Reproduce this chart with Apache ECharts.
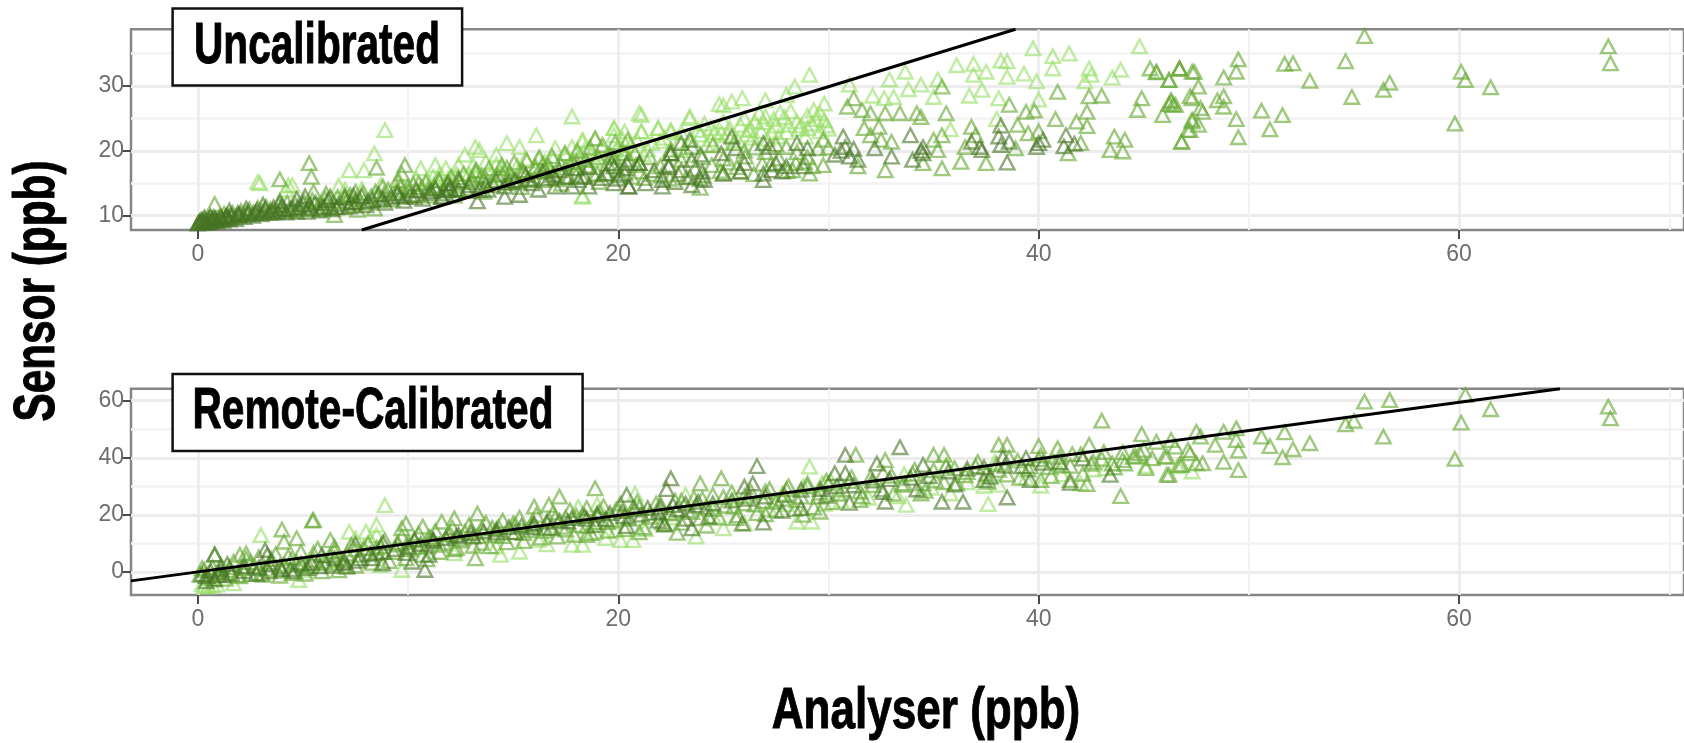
<!DOCTYPE html>
<html><head><meta charset="utf-8">
<style>html,body{margin:0;padding:0;background:#fff;overflow:hidden}#c{width:1684px;height:743px;filter:blur(0.45px)}</style>
<script src="https://cdn.jsdelivr.net/npm/echarts@6/dist/echarts.min.js"></script>
</head><body><div id="c"></div>
<script>
const xMajor=[0,20,40,60], xMinor=[10,30,50,70];
const y1Major=[10,20,30], y1Minor=[15,25,35];
const y2Major=[0,20,40,60], y2Minor=[10,30,50];
const identityA=[[7.8,7.8],[38.9,38.74]];
const identityB=[[-3.18,-3.1],[64.8,64.2]];

const uncalLight=[[2.85,15.2],[2.95,15],[4.5,14.7],[4.3,14.7],[4.2,14],[8.9,23.2],[8.4,19.6],[7.2,17],[7.9,17],[6.7,14.6],[10.6,17.3],[11.3,17.8],
[17.8,25.3],[21,25.8],[21.1,25.5],[23.4,25],[16.1,22.4],[14.7,21.2],[13.2,20.6],[13.4,20.1],[12.7,19.4],[15.3,20.6],[14.2,19.4],[15.6,18.8],[16.2,18.8],[17,20.4],[18.3,21.7],[18.9,21.9],[19.8,23.5],[20.3,23],[21.1,23],[21.9,23.5],[22.5,23.2],[19.8,22.4],[17.8,20.6],[18.4,20.1],[19.2,20.6],[20.6,20.9],[22.4,19.6],[23.2,20.1],[23.5,21.7],[17.5,19.6],[16.5,18.3],[15.3,17],[14.5,17.3],[13.7,18.3],[13.1,17.8],[12.4,17.8],[11.8,17.3],[18.1,18.8],[18.9,18.6],[18.3,21.4],
[39.73,35.8],[41.45,35],[40.67,34.6],[40.67,32.7],[44.8,36.1],[36.1,33.2],[36.9,33.4],[36.9,31.7],[38.2,33.9],[38.5,33.8],[37.5,32.2],[38.5,31.4],[39.3,31.9],[39.9,30.7],[42.4,32.7],[42.5,31.7],[42.2,30.7],[43.5,31.3],[43.9,32.5],[33.65,32.2],[32.9,31],[35.2,31],[34.4,30.2],[33.8,29.5],[32.65,28.1],[33.1,28.3],[35,28.3],[32.1,28.5],[31,30.2],[36.7,28.5],[37.3,29.4],[38.1,28.1],[40,27.9],[35.8,23.3],[38,24.9],
[29.1,31.7],[28.4,29.9],[28,28.6],[27,27.8],[25.9,28.1],[25.4,27.6],[24.8,27.2],[25,27],[23.4,25.3],[19.8,23.5],[21.9,23.5],[21.1,23],[22.5,22.9],[24.1,24.2],[26.7,25.8],[27,25.3],[26.5,24.5],[27.4,24.9],[28.5,24.5],[29,23.5],[29.6,25.8],[29.8,27.3],[29.4,24.9],[29.8,24.7],[29.9,23.9],[27.5,23.9],[26.2,23.2],[24.6,22.9],[25.3,23.5],[23.9,22.5],[28,22.9],[28.7,23.9],[29.3,26.3],[28.2,26.1],[26.8,23],[27.9,25.2],[26,25],[25,24.5],[24.4,21.8],[24.9,21.3],[26.4,22],[20.9,21.6],[20.2,21.8],[21.6,21.2],[22,21.5],[19.5,19.6],[13.9,16.7],[12.9,16.4],[11.2,16],[11.9,15.7],[10.9,15.6],[14.9,16.2],[16.8,17.2],[18.3,12.9],[18.3,13.1]];
const uncalLightBand=[[20.2,20.3],[21.4,20.2],[22.2,22],[23,22.8],[23.8,23.2],[24.4,23.5],[25.2,22.4],[25.8,24],[26.3,23.4],[26.9,24.4],[27.3,22.9],[27.7,25.9],[28.1,24],[28.6,23.4],[29,25.4],[29.2,24.2],[29.6,23],[30,23.4],[28.9,22.2],[27.1,21.8],[25.7,21.6],[24.2,20.8],[23.1,19.3],[21.2,19.4],[19.9,20.2],[18.7,19.4],[17.7,18],[16.9,18.7],[16.1,17.6],[15.2,17.7],[14.2,17.9],[13.2,16.2],[12.3,16.4],[11.5,16.4],[10.4,15.7],[9.6,15.3],[8.7,14.7],[7.8,14.1],[7,14],[20.4,19.7],[22.9,21.4],[26.1,22.5],[27.6,22.2],[24.9,22.8]];

const uncalMid=[[3.9,15.6],[5.3,18.1],[5.4,16],[8.5,17.4],[9.85,17.8],[9.7,16.5],[9.5,15.5],[18.9,21.9],[5.5,13.7],[6.1,13.4],[7.5,13.7],[8.8,14.5],[9.5,14],[7,13.2],[6.5,10.1],[7.6,10.9],[8.4,11.1],[0.8,11.8],
[45.3,32.7],[45.6,32.2],[46.2,30.9],[46.7,32.7],[47.3,32.2],[47.4,32.2],[45.6,32.1],[46.2,30.9],[46.7,32.7],[35.4,29.9],[31.2,28.1],[38.6,27.1],[40.9,29.1],[42.4,28.4],[43,28.5],[44.9,28.1],[44.7,26.3],[46.3,27.8],[46.4,27.1],[45.9,25.5],[47.3,28.1],[39.4,26],[39.8,26.2],[42.3,26],[40.8,24.9],[41.8,24.5],[42.3,23.8],[39,24],[36.8,23.7],[35.6,25.8],[33.4,25.8],[34.2,25.8],[34.4,25.2],[32.7,25.8],[30.9,26.8],[31.6,26.3],[32,25.8],[32.4,23.7],[31.7,23.5],[32,22.4],[35,21.7],[35.4,22.4],[37,22.4],[39.5,22.7],[40,23],[42,21.2],[43.6,22.2],[44.1,21.7],[43.4,20.1],[44,19.9],[41.4,19.6],[38.9,20.4],[36.5,20.6],[35.2,20.1],[34.5,18.1],[32.5,21.7],[33,21.4],[31.4,17.6],[29.75,21.7],[29.75,17.8],[35.4,17.3],[36.3,18.3],[37.5,18.1],[32.7,17],[46.8,21.4],[47.2,23.2],[47.3,24.8],
[55.5,37.7],[54.6,33.8],[54.9,28.3],[67.1,36.1],[67.2,33.5],[60.1,32.2],[60.3,30.9],[61.5,29.8],[59.8,24.2],[56.7,30.5],[56.4,29.4],[52.9,30.8],[51.7,33.4],[52.1,33.5],[50.6,26.2],[51.6,25.5],[51,23.3],[49.5,22.1],[49.4,24.9],[49.5,34.1],[49.4,32.2],[48.8,31.3],[47.6,29.9],[46.7,32.7],[46.2,27.2],[47.2,28.4],[46.3,27.6],[46.5,27.1],[47.7,26.6],[47.8,26],[48.5,27.8],[48.8,28.4],[48.8,26.8],[47.6,24],[47.3,24.5],[47.1,23.2],[46.8,21.4],
[10,14.5],[10.5,15],[11,14.2],[11.5,15.4],[12,14.6],[12.4,15.9],[13,15.2],[13.5,16.2],[14,15.3],[14.5,16.4],[15,15.4],[15.5,16.7],[16,15.7],[16.5,17],[17,15.9],[17.5,17.4],[18,16.2],[18.5,17.7],[19,16.5],[19.5,18],[20,17],[20.5,18.6],[21,16.8],[21.5,19],[22,17.6],[22.5,20.2],[23,18.6],[23.5,20.6],[24,19],[24.5,20.9],[25,18.8],[25.5,21.2],[26,20],[26.5,20.5],[27,19.8],[27.5,21],[28,20.6],[28.5,19.8],[29,19],[29.5,20.4],[30,20.5],[12.2,13.1],[13.6,13.7],[15.4,14.4],[17.3,14.9],[19.1,15.2],[23.9,14.3],[25,16.5],[25.8,16.8],[28.3,17],[29.1,16.5],[19.8,19],[20.8,19.6],[18,18.3],[16.4,17.9],[14.7,17.4],[13.2,16.9]];
const uncalMidBand=[[0.15,9.4],[0.35,9.6],[0.55,9.2],[0.75,9.8],[1.05,10],[1.25,10.3],[1.45,9.7],[1.65,10.4],[1.85,10],[2.05,10.7],[2.25,10.4],[2.45,11],[2.65,10.5],[2.85,11.2],[3.05,10.7],[3.25,11.4],[3.45,10.9],[3.65,10.5],[3.85,11.7],[4.05,11],[4.25,12],[4.45,10.8],[4.65,11.7],[4.85,11],[5.05,12.2],[5.25,11.3],[5.45,12.4],[5.65,11],[5.85,11.9],[6.05,12.6],[6.25,11.2],[6.45,12],[6.65,12.9],[6.85,11.3],[7.05,12.2],[7.25,13.2],[7.45,11.6],[7.65,12.6],[7.85,13.5],[8.05,12],[8.25,13],[8.45,13.7],[8.65,12.4],[8.85,13.3],[9.05,14],[9.25,12.5],[9.45,13.6],[9.65,14.4],[9.85,12.9],[10.05,14],[10.25,14.9],[10.45,13.2],[10.65,14.4],[10.85,15.2],[11.05,13.1],[11.25,14.6],[11.45,15.5],[11.65,13.9],[11.85,15],[12.05,16],[12.25,14],[12.45,15.2],[12.65,16.5],[12.85,14.2],[13.05,15.7],[13.25,17],[13.45,14.6],[13.65,16],[13.85,17.3],[14.05,14.7],[14.25,16.3],[14.45,17.8],[14.65,15],[14.85,16.6],[15.05,18.2],[15.25,15.2],[15.45,17],[15.65,18.5],[15.85,15.4],[16.05,17.4],[16.25,19],[16.45,15.5],[16.65,17.8],[16.85,19.2],[17.05,15.6],[17.25,18],[17.45,19.6],[17.65,15.9],[17.85,18.3],[18.05,20],[18.25,16],[18.45,18.6],[18.65,20.5],[18.85,16.3],[19.05,19],[19.25,20.9],[19.45,16.5],[19.65,19.3],[19.85,21.3],[20.05,16.2],[20.25,19.6],[20.45,21.7],[20.65,16],[20.85,17.8],[21.25,15.8],[21.65,16.4],[22.05,16.2],[22.45,15.7],[22.85,16.4],[23.25,15.9],[23.65,17.2],[24.05,16.2],[24.45,17.8],[24.85,16.9],[25.25,18.2],[25.65,17.5],[26.05,19.1],[26.45,16.4],[26.85,18],[27.25,17.9],[27.65,18.8],[28.05,16.9],[28.45,18.1],[28.85,18.3],[29.25,17.6]];

const uncalDark=[[0,8.8],[0.1,9.1],[0.2,9.3],[0.3,8.9],[0.4,9.2],[0.5,9.5],[0.6,9],[0.7,9.3],[0.8,9.6],[0.9,9.1],[1,9.4],[1.1,9.8],[1.2,9.2],[1.3,9.6],[1.4,10],[1.5,9.4],[1.6,9.8],[1.8,9.5],[2,10.2],[2.2,9.8],[2.4,10.5],[2.6,10],[2.8,10.8],[3,10.2],[3.2,11],[3.4,10.4],[3.6,11.3],[3.8,10.6],[4,11.6],[4.2,10.5],[4.5,11.2],[4.7,10.6],[5,11.8],[5.2,10.6],[5.4,11.1],[5.6,12],[5.8,10.8],[6,11.4],[6.2,12.4],[6.4,11],[6.7,11.7],[7,12.8],[7.2,11.4],[7.5,12.1],[7.8,13],[8,11.6],[8.3,12.4],[8.6,13.3],[8.9,12],[9.2,12.9],[9.5,13.4],[9.8,12.3],[10.1,13.2],[10.4,13.9],[10.7,12.6],[11,13.5],[11.3,14.2],[11.6,12.9],[11.9,13.9],[1.5,10.8],[2.3,11.1],[3.1,11.7],[3.9,12.2],[4.7,12.6],[0.3,9.7],[0.6,9.9],[1.9,10.4],[5.1,13],[6.3,12.9],[7.4,13.1],
[13.3,12.2],[14.6,12.9],[15.3,13.2],[16.2,14],[17,14.5],[17.8,14.5],[18.6,14.5],[19.8,15],[20.5,14.5],[22.1,14.5],[23.5,14.7],[13.8,14],[12.4,14],[11.8,13.4],[12.9,14.7],[15.1,15.5],[15.9,15],[16.7,15.8],[17.5,16],[18.4,16],[19.4,16.5],[20.3,17.3],[21,18.1],[21.7,17],[22.4,17.5],[22.5,19.6],[18.6,17.5],[13.4,14],[11.9,15],[11.6,12.9],[12.4,15.5],[14.2,15.5],[14.6,14.5],[15.6,16.3],[16.4,16.8],[17.2,17],[18,17.3],[19.7,18.1],
[20.4,18.1],[21,18.1],[19.8,17.6],[20.3,16.5],[20.5,14.5],[22.1,15.5],[23.4,16],[24,16.8],[22.4,17.8],[23,17],[24.9,19.6],[23.9,19.4],[22.5,19.6],[24.1,15.5],[25,16.5],[25.8,16.8],[26,18.1],[26.9,15.5],[26.9,16.5],[27.5,18.1],[28,17.6],[28.5,21.2],[29,20.4],[26.9,21.2],[27.2,20.6],[25.4,22.2],[25.6,20.4],[23,21.2],[23.4,21.7],[23.5,18.6],[27.3,17],[27.8,16.8],[28.8,17.6],
[33.9,22.4],[36.8,21.4],[38.1,22.2],[38.2,23.9],[40.2,21.7],[41.3,22.4],[39.9,20.6],[38.2,20.9],[37.3,20.1],[37.2,20.6],[34.5,20.6],[34.5,19.6],[34,18.6],[33,19.1],[32.2,20.4],[30.7,22.2],[30.8,20.6],[30.3,19.4],[31,19.1],[31.4,18.6],[38.5,18.2],[40,21.2],[41.7,21.1],[41.2,20.7],[38.6,21.4],[34.4,20],[30.6,20],[31.2,20.3],
[0.05,9],[0.25,9.1],[0.45,8.9],[0.65,9.3],[0.85,9.4],[1.15,9.5],[1.35,9.9],[1.55,10.1],[1.95,10.1],[2.35,10.2],[2.75,10.4],[3.15,10.5],[3.55,10.7],[3.95,11],[4.35,11],[4.75,11.3],[5.3,11.6],[5.9,11.2],[6.6,11.3],[7.3,12],[8.1,12.2],[8.8,12.6],[9.6,13],[10.3,12.9],[11.1,13.8],[12,14.2],[12.8,13.8],[13.7,14.8],[14.8,15.2],[15.7,15.6],[16.9,16.3],[18.1,15.5],[19.2,15.8],[20,15.7],[21.3,15],[22.7,15.2],[23.9,15.7]];

const remoteLight=[[8.9,23.4],[8.5,16.5],[8.5,12.9],[7.2,14.1],[8,14.1],[7.5,11.8],[8.2,11.2],[3,12.9],[1.7,-4],[4.8,-2.8],[5.1,0.7],[8.7,2.4],[9.7,0.7],[17.8,9.5],[18.3,9.5],[20.1,11.2],[20.7,11.2],[23.7,12.4],[25,15.3],[26,17],[29.1,36.9],[28.5,17.6],[29.2,17.6],[33.7,23.5],[37.6,23.8],[35.8,27.5],[40.1,30.2],[37.4,30.2],[42,31],[38.1,30.5],[0.3,-5],[0.5,-5.1],[0.7,-4.7],[0.2,-4.3],[0.9,-4.4],[12.2,6.5],[15.3,7.1],[14.4,6],[7,1.9],[6.6,4.2],[16.2,11.2],[18.9,14],[19.4,11.9],[16.6,9.7],[14.2,9],[19.9,14.6],[21.3,15],[22.6,19.1],[24.5,19.6],[27.2,22],[28,23.8],[29.8,23.9],[30.6,25],[31.9,26],[33.3,26.5],[34.9,29.5],[36.6,31.4],[39.4,32.9],[41.1,34.2],[42.6,35.9],[43.2,36.3],[45.1,37.2],[46.6,37],[47.3,35.2],[19,23.6],[18.1,22.8],[20.8,27.4],[23.2,27],[25.5,25.5],[27.8,27.4],[28.8,30],[29.7,31.2],[30.1,32.1],[33.6,34.2],[35.6,37.3],[37.9,38.5],[40.7,38.8]];

const remoteMid=[[5.5,18.2],[5.45,18],[4,14.9],[4.7,11.8],[4.1,10.6],[0.8,6],[2,6],[2.3,6.5],[0.2,1.3],[6.3,11.2],[9.7,15.3],[9.9,17],[10.7,15.9],[11.6,17.6],[12.2,18.8],[13.3,20.5],[16,22.9],[16.7,23.5],[18.9,29.3],[17.2,26.4],
[43,53],[44.9,48.3],[43.9,26.6],[32.7,39.2],[23.9,31],[24.9,32.8],[35,41],[35.5,41],[38.1,44.5],[38.5,44.5],[40,44.1],[40.9,43.3],[42.4,44.5],[31.3,41],[22.2,16.5],[27,20.2],[28.8,20],[29.6,21.1],[31.5,25.2],[34.4,27.5],[40.1,32.2],[41.5,32.2],[42.3,30.8],[44,39.2],[46.2,34],[46.7,37.5],[44.8,41.6],[46.1,40.4],[47.2,41.6],
[55.5,59.7],[56.7,60.2],[60.3,62],[61.5,57],[60.1,52.3],[59.8,39.6],[56.4,47.4],[54.6,51.7],[55,52.9],[67.1,57.9],[67.2,53.8],[52.9,45.1],[52.1,43],[51.6,40.2],[51.7,48.9],[50.6,47.4],[51,44.1],[49.5,35.7],[48.8,38.6],[49.5,42.5],[49.4,46.2],[49.4,50.3],[48.8,49.1],[48.4,44.5],[47.5,49.1],[47.7,47.4],[47.1,42.7],[46.8,37.5],[47.5,38.1],[47.8,38.1],[46.1,34],[46,40.4],[45.4,39.8],[46.5,43.9],[45.6,45.6],[46.3,46.2],
[10,10.4],[10.5,8.8],[11,12.3],[11.5,9.5],[12,13.4],[12.5,11],[13,14.8],[13.5,10.2],[14,15.5],[14.5,12.6],[15,17],[15.5,13.6],[16,16.5],[16.5,14.4],[17,18.8],[17.5,14.9],[18,19.7],[18.5,16],[19,20.6],[19.5,17.5],[20,22],[20.5,18.6],[21,22.6],[21.5,19.3],[22,23.8],[22.5,20.5],[23,24.9],[23.5,21],[24,25.6],[24.5,22],[25,26.2],[25.5,22.9],[26,26.5],[26.5,23.6],[27,28.2],[27.5,24.6],[28,29],[28.5,25.1],[29,30],[29.5,26.3],[30,31],[30.5,27.4],[31,31.8],[31.5,28.2],[32,33],[32.5,28.9],[33,33.7],[33.5,30.5],[34,34.4],[34.5,31],[35,35.6],[35.5,31.4],[36,36.3],[36.5,33.9],[37,37],[37.5,34.4],[38,37.8],[38.5,34.1],[39,39],[39.5,35.9],[40,39.5],[40.5,36.7],[41,40.3],[41.5,37.2],[42,41.2],[42.5,37.9],[43,39.6],[43.5,38],[44,41.9],[44.5,40.3],[45,42.8],[13.2,4.8],[12.2,7.9],[10.9,4.4],[18.5,12.9],[21,13.9],[22.8,13.7],[24.2,16.2],[25.6,18.9],[1.5,1.6],[2.5,3.4],[3.5,4.5],[4.5,4.9],[5.5,6.5],[6.5,7.3],[7.5,7.9],[8.5,8.5],[9.5,9.6],[1,-1],[2,-1.5],[3,-0.6],[4,0.4],[5,2.4],[6,3.6]];
const remoteMidBand=[[0.1,-1],[0.3,0.8],[0.5,-2],[0.7,1.6],[0.9,-0.8],[1.1,2.4],[1.3,-2.4],[1.5,0.6],[1.7,3.6],[1.9,-1.2],[2.1,1.4],[2.3,4.6],[2.5,-0.7],[2.7,2],[2.9,5.2],[3.1,-1],[3.3,1],[3.5,3.4],[3.7,6.2],[3.9,-1.3],[4.1,2.6],[4.3,5.4],[4.5,-0.4],[4.7,3.4],[4.9,7],[5.1,-0.6],[5.3,2],[5.5,4.2],[5.7,8.1],[5.9,0.2],[6.1,3],[6.3,5.6],[6.5,8.8],[6.7,0.6],[6.9,4.4],[7.1,6.4],[7.3,9.4],[7.5,2.2],[7.7,6],[7.9,8.4],[8.1,10],[8.3,3.2],[8.5,6.6],[8.7,9],[8.9,11],[9.1,3.8],[9.3,7],[9.5,10.3],[9.7,12.4],[9.9,4.8],[10.1,8],[10.3,11],[10.5,13.5],[10.7,6],[10.9,9],[11.1,12],[11.3,14.4],[11.5,7],[11.7,10.2],[11.9,13.2],[12.1,15.6],[12.3,8.4],[12.5,11.7],[12.7,14],[12.9,16.4],[13.1,9.2],[13.3,12.6],[13.5,15.2],[13.7,17.2],[13.9,9],[14.1,12.9],[14.3,15.8],[14.5,18],[14.7,10.4],[14.9,14],[15.1,16.6],[15.3,19],[15.5,10.8],[15.7,14.6],[15.9,17.2],[16.1,20],[16.3,12],[16.5,15.5],[16.7,18.4],[16.9,20.8],[17.1,12.4],[17.3,15.8],[17.5,19],[17.7,21.6],[17.9,13],[18.1,16.4],[18.3,20],[18.5,22.4],[18.7,13.6],[18.9,17.4],[19.1,21],[19.3,23],[19.5,14.4],[19.7,18],[19.9,21.8],[20.1,24],[20.3,15],[20.5,19],[20.7,22.4],[20.9,24.6],[21.2,15.6],[21.5,20.6],[21.8,24],[22.1,17.4],[22.4,20.8],[22.7,25],[23,17.2],[23.3,21.6],[23.6,25.8],[23.9,18.8],[24.2,22.6],[24.5,27],[24.8,19],[25.1,23.2],[25.4,27.8],[25.7,19.8],[26,24],[26.3,28.2],[26.6,20.6],[26.9,24.8],[27.2,29],[27.5,21.6],[27.8,25.6],[28.1,30],[28.4,22],[28.7,26.4],[29,31],[29.3,22.6],[29.6,27.8],[29.9,32],
[30.2,24.4],[30.7,28.9],[31.1,33.2],[31.6,26.5],[32.1,30.4],[32.6,34.6],[33.1,27.4],[33.6,31],[34.1,35.8],[34.6,28.4],[35.1,32],[35.6,37.2],[36.1,31],[36.6,35],[37.1,38.5],[37.6,31.6],[38.1,35.8],[38.6,40],[39.1,33],[39.6,37],[40.1,40.8],[40.6,33.6],[41.1,37.4],[41.6,41.3],[42.1,34.4],[42.6,38.6],[43.1,42],[43.6,36.6],[44.1,38],[44.6,40.6],[45.1,36.4]];

const remoteDark=[[0.4,-3.3],[0.8,-2.6],[1.2,-1.2],[0.2,-0.8],[0.6,0.4],[1.1,1],[1.4,2.8],[2.2,2],[2.9,1.5],[3.4,2.7],[3.9,1.8],[4.4,1],[4.9,2.9],[5.4,3.2],[5.9,5.9],[6.5,4.8],[6.9,3],[7.7,4.8],[8.3,4.8],[3.2,7.7],[3.3,6],[7.1,1.9],[10.2,3.6],[10.8,0.7],[8.8,3],[9.9,6.6],[11,6],[0.8,6.2],
[22.5,32.8],[22.3,29],[26.6,37.1],[20.4,27],[33.4,43.7],[30.8,41],[32.3,38],[34.5,37.5],[30.8,34.6],[30.3,34.6],[26.4,31],[26,29.9],[23.5,15.3],[26.9,17.3],[25.9,17],[22.2,16.8],[32.7,24.6],[35.4,24.6],[36.4,24.6],[38.5,26.1],[37.4,32.2],[41.5,31.2],[43.4,34],[38.3,40.2],[39.4,39.9],
[7.5,9.8],[8.8,10.3],[10.3,11.4],[11.2,10.9],[12.3,12.6],[13.1,12.4],[14.2,13.8],[15.1,13.9],[15.9,15.6],[16.8,15.3],[17.6,17.7],[18.5,18.6],[19.4,18.5],[20.3,19.6],[21.1,20.1],[21.9,21],[22.8,21.9],[23.7,23.3],[24.5,24],[25.4,25],[26.2,25.6],[27,26.4],[27.9,27],[28.7,28.8],[29.6,29],[30.4,30],[31.2,30.3],[32.1,32],[32.9,32.5],[33.9,33],[34.8,33.6],[35.7,35.2],[36.6,36.2],[37.4,36.7],[38.4,37.2],[39.2,37],[40.2,38.2],[41,38.4],[42.1,39.7],[18.9,16.4],[20.4,16.1],[21.9,18],[23.2,18.6],[24.3,19.3],[27.8,21.4],[28.7,22.4],[29.9,26.7],[31,24.2],[32.6,28],[34.2,28.9],[36,30.6],[37.7,33.4],[39.6,32.2],
[0.4,-1.4],[1,0],[1.6,-0.6],[2.2,0.3],[2.8,-0.6],[3.4,0.2],[4,0.9],[4.6,0.2],[5.2,1.4],[5.8,2],[6.4,2.2],[7,3.6],[7.6,3.9],[8.2,6.4],[8.8,7],[9.4,8],[10,8.8],[10.6,9.8],[11.2,11.4],[11.8,11.9],[12.4,13],[13,13.6],[13.6,14.2],[14.2,14.9],[14.8,15.7],[15.4,16.2],[16,17],[16.6,17.6],[17.2,18],[17.8,18.9],[18.4,19.6],[19,20],[19.6,20.6],[20.2,21.3],[20.8,21.9],[21.4,22.4],[22,22.8],[22.6,23.4],[23.2,24],[23.8,24.6]];

const tone={light:'rgba(150,222,100,0.75)',mid:'rgba(105,170,55,0.8)',dark:'rgba(70,115,35,0.75)',line:'#000'};
const gridBox=[{left:131,top:29.3,width:1559,height:200.7},{left:131,top:388.7,width:1559,height:206.3}];
const range=[{min:7.8,max:38.74},{min:-8.05,max:64.2}];
const xRange={min:-3.18,max:70.7};
const ink='#6d6d6d';

function xAxisPair(g){return [
 {type:'value',gridIndex:g,...xRange,axisLine:{show:false,onZero:false},axisTick:{show:true,length:9,lineStyle:{color:'#4a4a4a',width:2},customValues:xMajor},
  axisLabel:{color:ink,fontSize:23,fontFamily:'Liberation Sans',margin:13,customValues:xMajor},splitLine:{show:true,lineStyle:{color:'#ebebf0',width:2.5}}},
 {type:'value',gridIndex:g,...xRange,axisLine:{show:false,onZero:false},axisTick:{show:false,customValues:xMinor},axisLabel:{show:false},splitLine:{show:true,lineStyle:{color:'#f2f2f4',width:2}}}
];}
function yAxisPair(g,major,minor){return [
 {type:'value',gridIndex:g,...range[g],axisLine:{show:false,onZero:false},axisTick:{show:true,length:9,lineStyle:{color:'#4a4a4a',width:2},customValues:major},
  axisLabel:{color:ink,fontSize:23,fontFamily:'Liberation Sans',margin:7,customValues:major},splitLine:{show:true,lineStyle:{color:'#ececec',width:3}}},
 {type:'value',gridIndex:g,...range[g],axisLine:{show:false,onZero:false},axisTick:{show:false,customValues:minor},axisLabel:{show:false},splitLine:{show:true,lineStyle:{color:'#f3f3f3',width:2.5}}}
];}
function pts(name,data,color,g){return {name,type:'scatter',xAxisIndex:g*2,yAxisIndex:g*2,data,symbol:'triangle',symbolSize:[14.5,13.5],clip:false,silent:true,large:false,
  itemStyle:{color:'rgba(255,255,255,0)',borderColor:color,borderWidth:2.4}};}
function identity(data,g){return {type:'line',xAxisIndex:g*2,yAxisIndex:g*2,data,showSymbol:false,silent:true,z:5,lineStyle:{color:tone.line,width:3}};}

const hand='"Liberation Sans"';
function label(text,x,y,size,sx,rot){return {type:'text',x,y,z:30,rotation:rot||0,scaleX:sx||1,
  style:{text,fill:'#000',stroke:'#000',lineWidth:1,font:'bold '+size+'px '+hand,textAlign:'center',textVerticalAlign:'middle'}};}
function box(x,y,w,h){return {type:'rect',z:20,shape:{x,y,width:w,height:h},style:{fill:'#fff',stroke:'#111',lineWidth:2.5}};}

const chart=echarts.init(document.getElementById('c'),null,{renderer:'canvas'});
chart.setOption({animation:false,backgroundColor:'#fff',
 grid:gridBox.map(b=>({...b,show:true,containLabel:false,borderColor:'#868686',borderWidth:2.5,backgroundColor:'#fff'})),
 xAxis:[...xAxisPair(0),...xAxisPair(1)],
 yAxis:[...yAxisPair(0,y1Major,y1Minor),...yAxisPair(1,y2Major,y2Minor)],
 series:[pts('Uncalibrated light',[...uncalLight,...uncalLightBand],tone.light,0),pts('Uncalibrated mid',[...uncalMid,...uncalMidBand],tone.mid,0),pts('Uncalibrated dark',uncalDark,tone.dark,0),identity(identityA,0),
  pts('Remote light',remoteLight,tone.light,1),pts('Remote mid',[...remoteMid,...remoteMidBand],tone.mid,1),pts('Remote dark',remoteDark,tone.dark,1),identity(identityB,1)],
 graphic:[box(172.6,8.5,289.5,77),box(172.6,374,410,77),
  label('Uncalibrated',317,47,58,0.70),label('Remote-Calibrated',373,412,58,0.70),
  label('Sensor (ppb)',38,291,58,0.73,Math.PI/2),label('Analyser (ppb)',926,712,58,0.76)]
});
</script></body></html>
